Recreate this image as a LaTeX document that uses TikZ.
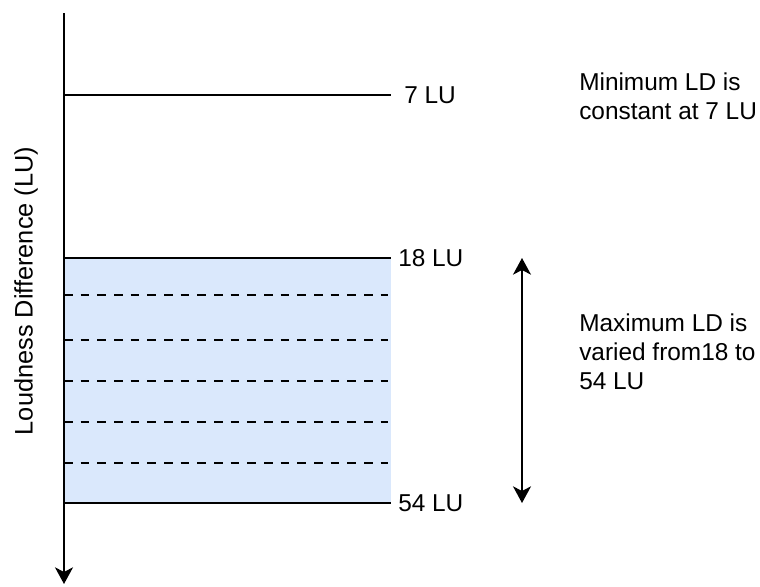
\documentclass[tikz,border=0pt]{standalone}
\usepackage{fontspec}
\setmainfont{Liberation Sans}
\usetikzlibrary{arrows.meta}
\definecolor{bandfill}{HTML}{DAE8FC}
\tikzset{
  lbl/.style={inner sep=0pt, font=\fontsize{18.3}{21.6}\selectfont},
  axislbl/.style={inner sep=0pt, font=\fontsize{19}{22}\selectfont},
  axisline/.style={line width=1.5pt, -{Stealth[length=12.5pt,width=13.5pt,inset=3.5pt]}},
  levelline/.style={line width=1.5pt},
  dashline/.style={line width=1.3pt, dash pattern=on 6.5 off 6},
  rangearrow/.style={line width=1.3pt, {Stealth[length=12.5pt,width=13.5pt,inset=3.5pt]}-{Stealth[length=12.5pt,width=13.5pt,inset=3.5pt]}}
}
\begin{document}
\begin{tikzpicture}[x=0.75pt,y=-0.75pt]
\useasboundingbox (0,0) rectangle (760,586);
% band
\fill[bandfill] (64,258) rectangle (391,503);
% coordinates
\coordinate (axTop) at (64,13);
\coordinate (axBot) at (64,584);
\coordinate (s7) at (64,95);   \coordinate (e7) at (391,95);
\coordinate (s18) at (64,258); \coordinate (e18) at (391,258);
\coordinate (s54) at (64,503); \coordinate (e54) at (391,503);
\foreach \i/\y in {1/295,2/340,3/381,4/422,5/463}{
  \coordinate (ds\i) at (64,\y);
  \coordinate (de\i) at (388,\y);
}
\coordinate (arrTop) at (522,258);
\coordinate (arrBot) at (522,503);
% dashed lines
\foreach \i in {1,...,5}{ \draw[dashline] (ds\i) -- (de\i); }
% level lines
\draw[levelline] (s7) -- (e7);
\draw[levelline] (s18) -- (e18);
\draw[levelline] (s54) -- (e54);
% axis
\draw[axisline] (axTop) -- (axBot);
% range arrow
\draw[rangearrow] (arrTop) -- (arrBot);
% labels
\node[lbl, anchor=west] (lab7) at (404,95) {7 LU};
\node[lbl, anchor=west] (lab18) at (398,258) {18 LU};
\node[lbl, anchor=west] (lab54) at (398,503) {54 LU};
\node[axislbl, rotate=90] (ylab) at (26,291) {Loudness Difference (LU)};
\node[lbl, anchor=north west, align=left] (minTxt) at (579,72.5) {Minimum LD is\\constant at 7 LU};
\node[lbl, anchor=north west, align=left] (maxTxt) at (579,313.5) {Maximum LD is\\varied from18 to\\54 LU};
\end{tikzpicture}
\end{document}
